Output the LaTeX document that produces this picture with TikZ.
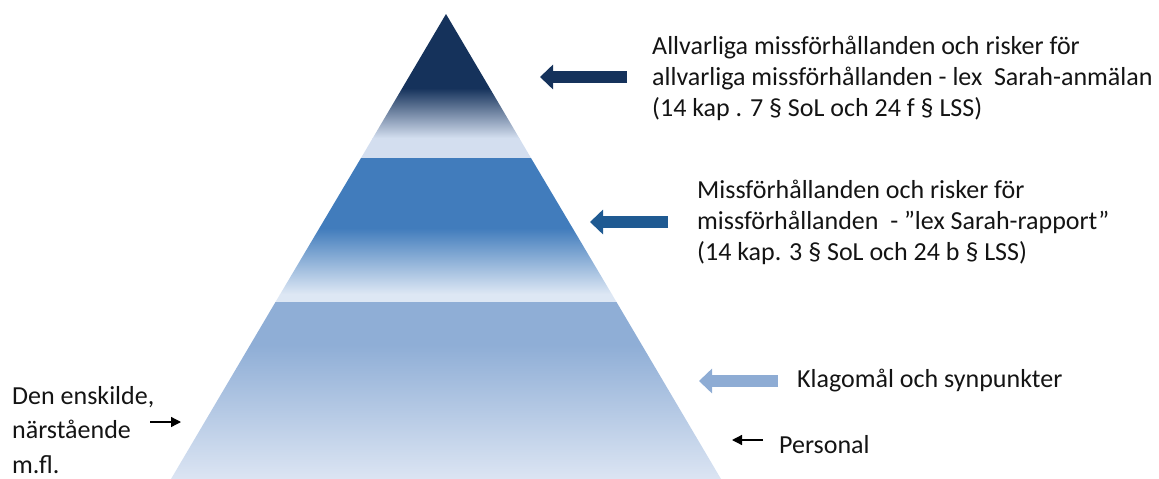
\documentclass[tikz,border=0pt]{standalone}
\usepackage{fontspec}
\setmainfont{Carlito}
\usetikzlibrary{arrows.meta}
\definecolor{navy}{HTML}{15325B}
\definecolor{topLight}{HTML}{D3DEEF}
\definecolor{midBlue}{HTML}{417CBC}
\definecolor{midLight}{HTML}{DDE7F4}
\definecolor{lowBlue}{HTML}{8FAED6}
\definecolor{lowLight}{HTML}{DCE5F3}
\definecolor{arrowMid}{HTML}{1F5A92}
\definecolor{arrowLow}{HTML}{8EACD4}
\definecolor{textcol}{HTML}{141414}
\tikzset{
  label/.style={inner sep=0pt, anchor=west, align=left, text=textcol,
    font=\fontsize{26}{31}\selectfont},
  bigarrow/.style={line width=12pt, -{Triangle[length=13pt,width=24pt]}},
  smallarrow/.style={line width=1.3pt, black, -{Triangle[length=10pt,width=10pt]}}
}
\begin{document}
\begin{tikzpicture}[x=1pt,y=-1pt]
\useasboundingbox (0,0) rectangle (1159,479);
% top tier
\begin{scope}
\clip (446,14) -- (531,158) -- (361,158) -- cycle;
\fill[navy] (300,0) rectangle (600,88);
\shade[top color=navy, bottom color=topLight] (300,88) rectangle (600,138);
\fill[topLight] (300,138) rectangle (600,158.5);
\end{scope}
% middle tier
\begin{scope}
\clip (361,158) -- (531,158) -- (616.5,302) -- (275.5,302) -- cycle;
\fill[midBlue] (250,150) rectangle (650,228);
\shade[top color=midBlue, bottom color=midLight] (250,228) rectangle (650,294);
\fill[midLight] (250,294) rectangle (650,302.5);
\end{scope}
% bottom tier
\begin{scope}
\clip (275.5,302) -- (616.5,302) -- (721,479) -- (171,479) -- cycle;
\fill[lowBlue] (150,300) rectangle (750,345);
\shade[top color=lowBlue, bottom color=lowLight] (150,345) rectangle (750,480);
\end{scope}
% big arrows
\coordinate (a1s) at (627,77);  \coordinate (a1e) at (540,77);
\coordinate (a2s) at (668,222); \coordinate (a2e) at (590,222);
\coordinate (a3s) at (778,381); \coordinate (a3e) at (699,381);
\draw[bigarrow, navy] (a1s) -- (a1e);
\draw[bigarrow, arrowMid] (a2s) -- (a2e);
\draw[bigarrow, arrowLow] (a3s) -- (a3e);
% small arrows
\coordinate (l1s) at (150,422); \coordinate (l1e) at (181,422);
\coordinate (r1s) at (763,440); \coordinate (r1e) at (732,440);
\draw[smallarrow] (l1s) -- (l1e);
\draw[smallarrow] (r1s) -- (r1e);
% texts
\node[label] (t1) at (652,78) {Allvarliga missförhållanden och risker för\\allvarliga missförhållanden - lex\ \ Sarah-anmälan\\(14 kap . 7 § SoL och 24 f § LSS)};
\node[label] (t2) at (697,222) {Missförhållanden och risker för\\missförhållanden\ \ - ”lex Sarah-rapport”\\(14 kap. 3 § SoL och 24 b § LSS)};
\node[label] (t3) at (797,381) {Klagomål och synpunkter};
\node[label] (t4) at (779,445) {Personal};
\node[label, font=\fontsize{26}{34.5}\selectfont] (t5) at (12,430) {Den enskilde,\\närstående\\m.fl.};
\end{tikzpicture}
\end{document}
